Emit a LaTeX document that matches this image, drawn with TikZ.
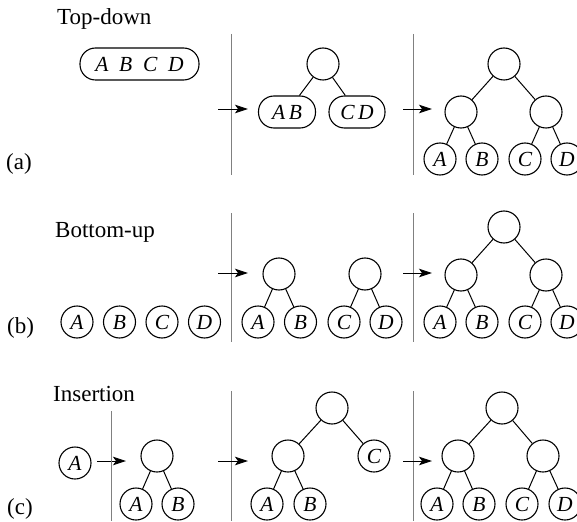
\documentclass[tikz,border=0pt]{standalone}
\usepackage{fontspec}
\setmainfont{Liberation Serif}
\usetikzlibrary{arrows.meta}
\newcommand\lblfont{\fontsize{23}{27}\selectfont}
\newcommand\itfont{\fontsize{21.5}{25}\selectfont\itshape}
\begin{document}
\begin{tikzpicture}[x=1pt,y=-1pt,
  cnode/.style={circle, draw, line width=1.1pt, minimum size=32pt, inner sep=0pt, font=\itfont},
  pill/.style={rectangle, rounded corners=15.5pt, draw, line width=1.1pt, minimum height=32pt, inner sep=0pt, font=\itfont},
  edge/.style={line width=1pt},
  sepline/.style={draw=black!50, line width=0.9pt},
  arr/.style={line width=0.9pt, -{Stealth[length=13pt, width=8.5pt, inset=3pt]}},
  title/.style={anchor=base west, inner sep=0pt, font=\lblfont}]
\useasboundingbox (0,0) rectangle (577,521);

% ---------------- Row (a)
\node[title] (ta) at (57,25) {Top-down};
\node[title] (la) at (6,170) {(a)};
\node[pill, minimum width=119pt] (abcd) at (139.5,64) {A\hspace{0.5em}B\hspace{0.5em}C\hspace{0.5em}D};
\coordinate (va1t) at (231,34); \coordinate (va1b) at (231,175);
\draw[sepline] (va1t) -- (va1b);
\coordinate (aa1s) at (218,109); \coordinate (aa1e) at (248,109);
\draw[arr] (aa1s) -- (aa1e);
\node[cnode] (ma) at (323,64) {};
\node[pill, minimum width=57pt] (pab) at (287,112) {A\,B};
\node[pill, minimum width=56pt] (pcd) at (357,112) {C\,D};
\draw[edge] (ma) -- (pab);
\draw[edge] (ma) -- (pcd);
\coordinate (va2t) at (413,34); \coordinate (va2b) at (413,175);
\draw[sepline] (va2t) -- (va2b);
\coordinate (aa2s) at (403,109); \coordinate (aa2e) at (432,109);
\draw[arr] (aa2s) -- (aa2e);
\node[cnode] (ar) at (504,64) {};
\node[cnode] (al) at (461,112) {};
\node[cnode] (arr2) at (546,112) {};
\node[cnode] (aA) at (440,159) {A};
\node[cnode] (aB) at (482,159) {B};
\node[cnode] (aC) at (525,159) {C};
\node[cnode] (aD) at (567,159) {D};
\draw[edge] (ar) -- (al); \draw[edge] (ar) -- (arr2);
\draw[edge] (al) -- (aA); \draw[edge] (al) -- (aB);
\draw[edge] (arr2) -- (aC); \draw[edge] (arr2) -- (aD);

% ---------------- Row (b)
\node[title] (tb) at (55,237) {Bottom-up};
\node[title] (lb) at (7,333) {(b)};
\node[cnode] (b0A) at (77,322) {A};
\node[cnode] (b0B) at (119.5,322) {B};
\node[cnode] (b0C) at (162,322) {C};
\node[cnode] (b0D) at (204.5,322) {D};
\coordinate (vb1t) at (231,213); \coordinate (vb1b) at (231,342);
\draw[sepline] (vb1t) -- (vb1b);
\coordinate (ab1s) at (218,273); \coordinate (ab1e) at (248,273);
\draw[arr] (ab1s) -- (ab1e);
\node[cnode] (b1r) at (279,274) {};
\node[cnode] (b1A) at (258,322) {A};
\node[cnode] (b1B) at (300.5,322) {B};
\node[cnode] (b2r) at (365,274) {};
\node[cnode] (b2C) at (344,322) {C};
\node[cnode] (b2D) at (386,322) {D};
\draw[edge] (b1r) -- (b1A); \draw[edge] (b1r) -- (b1B);
\draw[edge] (b2r) -- (b2C); \draw[edge] (b2r) -- (b2D);
\coordinate (vb2t) at (413,213); \coordinate (vb2b) at (413,342);
\draw[sepline] (vb2t) -- (vb2b);
\coordinate (ab2s) at (403,273); \coordinate (ab2e) at (432,273);
\draw[arr] (ab2s) -- (ab2e);
\node[cnode] (br) at (504,227) {};
\node[cnode] (bl) at (461,275) {};
\node[cnode] (brr) at (546,275) {};
\node[cnode] (bA) at (440,322) {A};
\node[cnode] (bB) at (482,322) {B};
\node[cnode] (bC) at (525,322) {C};
\node[cnode] (bD) at (567,322) {D};
\draw[edge] (br) -- (bl); \draw[edge] (br) -- (brr);
\draw[edge] (bl) -- (bA); \draw[edge] (bl) -- (bB);
\draw[edge] (brr) -- (bC); \draw[edge] (brr) -- (bD);

% ---------------- Row (c)
\node[title] (tc) at (53,401) {Insertion};
\node[title] (lc) at (7,514) {(c)};
\node[cnode] (c0A) at (75,463) {A};
\coordinate (ac1s) at (97,461); \coordinate (ac1e) at (126,461);
\draw[arr] (ac1s) -- (ac1e);
\coordinate (vc1t) at (111,411); \coordinate (vc1b) at (111,521);
\draw[sepline] (vc1t) -- (vc1b);
\node[cnode] (c1r) at (157,456) {};
\node[cnode] (c1A) at (136,504) {A};
\node[cnode] (c1B) at (178,504) {B};
\draw[edge] (c1r) -- (c1A); \draw[edge] (c1r) -- (c1B);
\coordinate (vc2t) at (231,391); \coordinate (vc2b) at (231,521);
\draw[sepline] (vc2t) -- (vc2b);
\coordinate (ac2s) at (218,461); \coordinate (ac2e) at (248,461);
\draw[arr] (ac2s) -- (ac2e);
\node[cnode] (c2r) at (332,408) {};
\node[cnode] (c2l) at (288,456) {};
\node[cnode] (c2C) at (374,456) {C};
\node[cnode] (c2A) at (267,504) {A};
\node[cnode] (c2B) at (310,504) {B};
\draw[edge] (c2r) -- (c2l); \draw[edge] (c2r) -- (c2C);
\draw[edge] (c2l) -- (c2A); \draw[edge] (c2l) -- (c2B);
\coordinate (vc3t) at (413,391); \coordinate (vc3b) at (413,521);
\draw[sepline] (vc3t) -- (vc3b);
\coordinate (ac3s) at (403,461); \coordinate (ac3e) at (432,461);
\draw[arr] (ac3s) -- (ac3e);
\node[cnode] (cr) at (502,408) {};
\node[cnode] (cl) at (458,456) {};
\node[cnode] (crr) at (543,456) {};
\node[cnode] (cA) at (437,504) {A};
\node[cnode] (cB) at (479,504) {B};
\node[cnode] (cC) at (522,504) {C};
\node[cnode] (cD) at (565,504) {D};
\draw[edge] (cr) -- (cl); \draw[edge] (cr) -- (crr);
\draw[edge] (cl) -- (cA); \draw[edge] (cl) -- (cB);
\draw[edge] (crr) -- (cC); \draw[edge] (crr) -- (cD);
\end{tikzpicture}
\end{document}
